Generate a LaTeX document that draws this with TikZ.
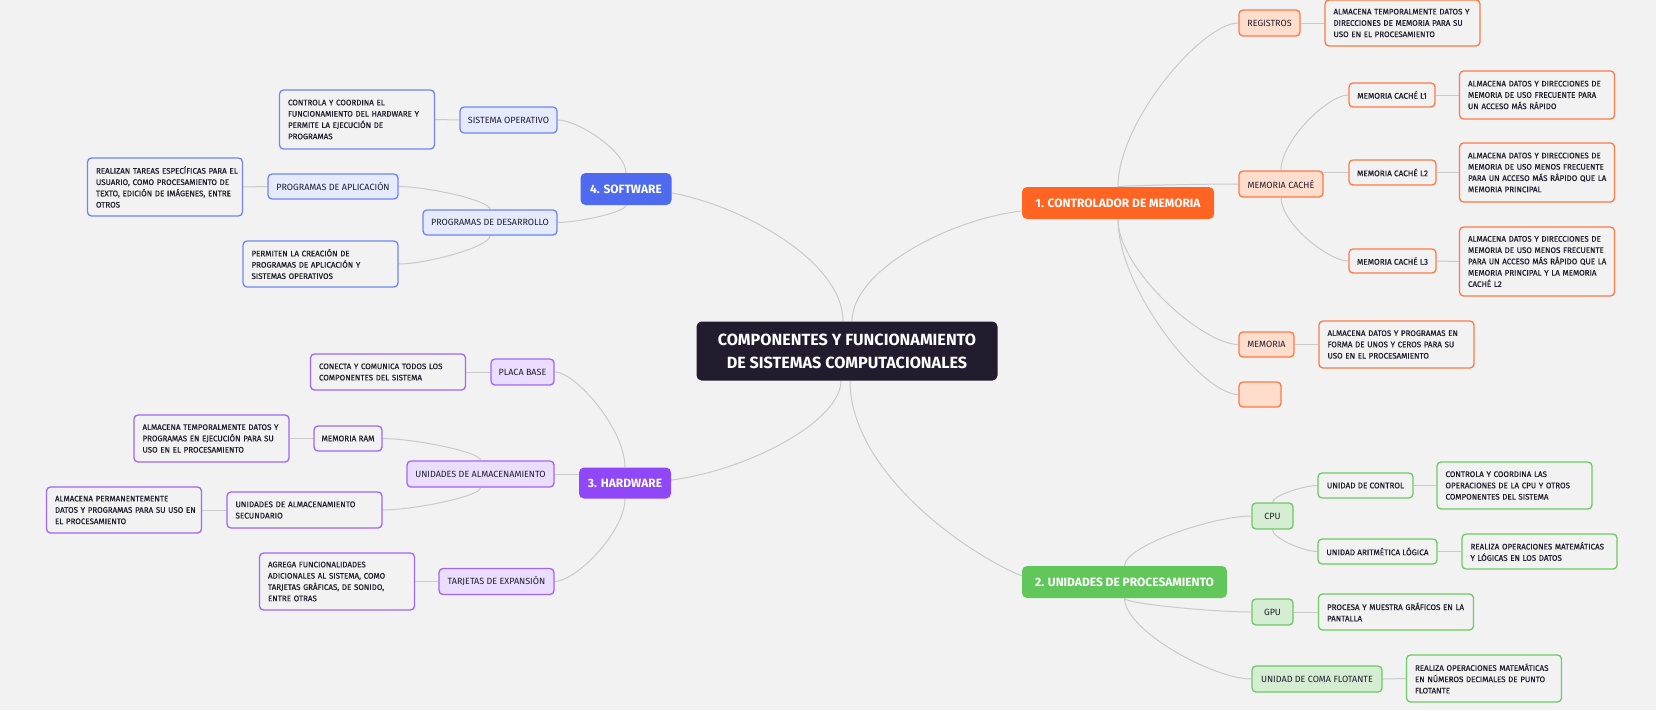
\documentclass[tikz,border=0pt]{standalone}
\usepackage{fontspec}
\setmainfont{Fira Sans}
\newfontfamily\medfam{Fira Sans}[FakeBold=0.3]
\usetikzlibrary{calc}
\definecolor{bgc}{HTML}{F2F2F2}
\definecolor{linec}{HTML}{CACACA}
\definecolor{txt}{HTML}{1F1D2B}
\definecolor{cdark}{HTML}{231C2E}
\definecolor{omain}{HTML}{FF6422}
\definecolor{ofill}{HTML}{FFDDCC}
\definecolor{obord}{HTML}{FF7A45}
\definecolor{gmain}{HTML}{62C75A}
\definecolor{gfill}{HTML}{D5EDD2}
\definecolor{gbord}{HTML}{6CCB63}
\definecolor{pmain}{HTML}{8F47F7}
\definecolor{pfill}{HTML}{EADDFD}
\definecolor{pbord}{HTML}{A066F8}
\definecolor{bmain}{HTML}{4E6BF0}
\definecolor{bfill}{HTML}{E6EAFD}
\definecolor{bbord}{HTML}{6E86F2}
\newcommand{\descfnt}{\medfam\fontsize{8}{11.3}\selectfont}
\newcommand{\nb}[1]{\mbox{#1}}
\newcommand{\cv}[2]{\draw[conn] (#1) .. controls ($(#1)!0.4!(#1|-#2)$) and ($(#2)!0.3!(#1|-#2)$) .. (#2);}
\pgfdeclarelayer{bglayer}
\pgfdeclarelayer{edgelayer}
\pgfsetlayers{bglayer,edgelayer,main}
\begin{document}
\begin{tikzpicture}[x=1pt,y=-1pt,
  base/.style={rounded corners=4pt, inner sep=0pt, align=center, text=txt},
  topn/.style={base, rounded corners=5pt, text=white, font=\bfseries\fontsize{12}{14}\selectfont},
  mid/.style={base, draw, line width=1.3pt, font=\fontsize{9}{11}\selectfont},
  omid/.style={mid, fill=ofill, draw=obord},
  gmid/.style={mid, fill=gfill, draw=gbord},
  pmid/.style={mid, fill=pfill, draw=pbord},
  bmid/.style={mid, fill=bfill, draw=bbord},
  third/.style={base, draw, line width=1.3pt, fill=bgc, font=\medfam\fontsize{8.2}{11}\selectfont},
  desc/.style={base, draw, line width=1.3pt, fill=bgc, align=left, inner xsep=8.5pt, text width=138pt, font=\descfnt},
  conn/.style={draw=linec, line width=1pt}
]
\begin{pgfonlayer}{bglayer}
\fill[bgc] (0,0) rectangle (1656,710);
\end{pgfonlayer}
\useasboundingbox (0,0) rectangle (1656,710);

% central
\node[base, fill=cdark, text=white, rounded corners=5pt, minimum width=301, minimum height=59,
  font=\bfseries\fontsize{16.2}{23}\selectfont] (center) at (847,351)
  {COMPONENTES Y FUNCIONAMIENTO\\DE SISTEMAS COMPUTACIONALES};

% top level
\node[topn, fill=omain, minimum width=192, minimum height=32] (ctrl) at (1118,203) {1. CONTROLADOR DE MEMORIA};
\node[topn, fill=gmain, minimum width=205, minimum height=32] (unid) at (1124.5,582) {2. UNIDADES DE PROCESAMIENTO};
\node[topn, fill=pmain, minimum width=92, minimum height=31] (hw) at (625,483) {3. HARDWARE};
\node[topn, fill=bmain, minimum width=91, minimum height=32] (sw) at (626,189) {4. SOFTWARE};

% memory controller branch
\node[omid, minimum width=61, minimum height=26] (reg) at (1269.5,23) {REGISTROS};
\node[desc, draw=obord, minimum height=46] (regd) at (1402.5,23) {\nb{ALMACENA TEMPORALMENTE DATOS Y}\\\nb{DIRECCIONES DE MEMORIA PARA SU}\\\nb{USO EN EL PROCESAMIENTO}};
\node[omid, minimum width=84, minimum height=26] (mc) at (1281,184) {MEMORIA CACHÉ};
\node[third, draw=obord, minimum width=86, minimum height=24] (l1) at (1392,95) {MEMORIA CACHÉ L1};
\node[desc, draw=obord, minimum height=48] (l1d) at (1537,95) {\nb{ALMACENA DATOS Y DIRECCIONES DE}\\\nb{MEMORIA DE USO FRECUENTE PARA}\\\nb{UN ACCESO MÁS RÁPIDO}};
\node[third, draw=obord, minimum width=87, minimum height=25] (l2) at (1392.5,172.5) {MEMORIA CACHÉ L2};
\node[desc, draw=obord, minimum height=59] (l2d) at (1537,172.5) {\nb{ALMACENA DATOS Y DIRECCIONES DE}\\\nb{MEMORIA DE USO MENOS FRECUENTE}\\\nb{PARA UN ACCESO MÁS RÁPIDO QUE LA}\\\nb{MEMORIA PRINCIPAL}};
\node[third, draw=obord, minimum width=87, minimum height=24] (l3) at (1392.5,261) {MEMORIA CACHÉ L3};
\node[desc, draw=obord, minimum height=69] (l3d) at (1537,261.5) {\nb{ALMACENA DATOS Y DIRECCIONES DE}\\\nb{MEMORIA DE USO MENOS FRECUENTE}\\\nb{PARA UN ACCESO MÁS RÁPIDO QUE LA}\\\nb{MEMORIA PRINCIPAL Y LA MEMORIA}\\\nb{CACHÉ L2}};
\node[omid, minimum width=55, minimum height=25] (mem) at (1266.5,344.5) {MEMORIA};
\node[desc, draw=obord, minimum height=47] (memd) at (1396.5,344.5) {\nb{ALMACENA DATOS Y PROGRAMAS EN}\\\nb{FORMA DE UNOS Y CEROS PARA SU}\\\nb{USO EN EL PROCESAMIENTO}};
\node[omid, minimum width=42, minimum height=25] (empty) at (1260,394.5) {};

% processing branch
\node[gmid, minimum width=41, minimum height=26] (cpu) at (1272.5,516) {CPU};
\node[third, draw=gbord, minimum width=95, minimum height=25] (uc) at (1365.5,485.5) {UNIDAD DE CONTROL};
\node[desc, draw=gbord, minimum height=47] (ucd) at (1514.5,485.5) {\nb{CONTROLA Y COORDINA LAS}\\\nb{OPERACIONES DE LA CPU Y OTROS}\\\nb{COMPONENTES DEL SISTEMA}};
\node[third, draw=gbord, minimum width=119, minimum height=25] (ual) at (1377.5,551.5) {UNIDAD ARITMÉTICA LÓGICA};
\node[desc, draw=gbord, minimum height=35] (uald) at (1539.5,551.5) {\nb{REALIZA OPERACIONES MATEMÁTICAS}\\\nb{Y LÓGICAS EN LOS DATOS}};
\node[gmid, minimum width=41, minimum height=26] (gpu) at (1272.5,612) {GPU};
\node[desc, draw=gbord, minimum height=36] (gpud) at (1396,612) {\nb{PROCESA Y MUESTRA GRÁFICOS EN LA}\\\nb{PANTALLA}};
\node[gmid, minimum width=130, minimum height=26] (ucf) at (1317,679) {UNIDAD DE COMA FLOTANTE};
\node[desc, draw=gbord, minimum height=47] (ucfd) at (1484,678.5) {\nb{REALIZA OPERACIONES MATEMÁTICAS}\\\nb{EN NÚMEROS DECIMALES DE PUNTO}\\\nb{FLOTANTE}};

% software branch
\node[bmid, minimum width=97, minimum height=26] (so) at (508.5,120) {SISTEMA OPERATIVO};
\node[desc, draw=bbord, minimum height=59] (sod) at (357,119.5) {\nb{CONTROLA Y COORDINA EL}\\\nb{FUNCIONAMIENTO DEL HARDWARE Y}\\\nb{PERMITE LA EJECUCIÓN DE}\\\nb{PROGRAMAS}};
\node[bmid, minimum width=130, minimum height=25] (pa) at (333,186.5) {PROGRAMAS DE APLICACIÓN};
\node[desc, draw=bbord, minimum height=58] (pad) at (165,187) {\nb{REALIZAN TAREAS ESPECÍFICAS PARA EL}\\\nb{USUARIO, COMO PROCESAMIENTO DE}\\\nb{TEXTO, EDICIÓN DE IMÁGENES, ENTRE}\\\nb{OTROS}};
\node[bmid, minimum width=134, minimum height=25] (pd) at (490,222.5) {PROGRAMAS DE DESARROLLO};
\node[desc, draw=bbord, minimum height=46] (pdd) at (320.5,264) {\nb{PERMITEN LA CREACIÓN DE}\\\nb{PROGRAMAS DE APLICACIÓN Y}\\\nb{SISTEMAS OPERATIVOS}};

% hardware branch
\node[pmid, minimum width=63, minimum height=26] (pb) at (522.5,372) {PLACA BASE};
\node[desc, draw=pbord, minimum height=36] (pbd) at (388,372) {\nb{CONECTA Y COMUNICA TODOS LOS}\\\nb{COMPONENTES DEL SISTEMA}};
\node[pmid, minimum width=147, minimum height=26] (ua) at (480.5,474) {UNIDADES DE ALMACENAMIENTO};
\node[third, draw=pbord, minimum width=68, minimum height=25] (ram) at (348,438.5) {MEMORIA RAM};
\node[desc, draw=pbord, minimum height=47] (ramd) at (211.5,438.5) {\nb{ALMACENA TEMPORALMENTE DATOS Y}\\\nb{PROGRAMAS EN EJECUCIÓN PARA SU}\\\nb{USO EN EL PROCESAMIENTO}};
\node[desc, draw=pbord, minimum height=36, font=\medfam\fontsize{8.2}{11.3}\selectfont] (sec) at (304.5,510) {\nb{UNIDADES DE ALMACENAMIENTO}\\\nb{SECUNDARIO}};
\node[desc, draw=pbord, minimum height=46] (secd) at (124,510) {\nb{ALMACENA PERMANENTEMENTE}\\\nb{DATOS Y PROGRAMAS PARA SU USO EN}\\\nb{EL PROCESAMIENTO}};
\node[pmid, minimum width=115, minimum height=26] (tj) at (496.5,581.5) {TARJETAS DE EXPANSIÓN};
\node[desc, draw=pbord, minimum height=57] (tjd) at (337,581.5) {\nb{AGREGA FUNCIONALIDADES}\\\nb{ADICIONALES AL SISTEMA, COMO}\\\nb{TARJETAS GRÁFICAS, DE SONIDO,}\\\nb{ENTRE OTRAS}};

\begin{pgfonlayer}{edgelayer}
% central to top level
\draw[conn] ($(center.north)+(-4,0)$) .. controls ($(center.north)+(-4,-61)$) and ($(sw.east)+(68,16)$) .. ($(sw.east)+(0,4)$);
\draw[conn] ($(center.north)+(5,0)$) .. controls ($(center.north)+(5,-51)$) and ($(ctrl.west)+(-72,16)$) .. ($(ctrl.west)+(0,8)$);
\draw[conn] ($(center.south)+(-6,0)$) .. controls ($(center.south)+(-6,40)$) and ($(hw.east)+(78,-13)$) .. ($(hw.east)+(0,-3)$);
\draw[conn] ($(center.south)+(3,0)$) .. controls ($(center.south)+(3,89)$) and ($(unid.west)+(-60,-31)$) .. ($(unid.west)+(0,-6)$);
% memory controller
\cv{ctrl.north}{reg.west}
\cv{ctrl.north}{mc.west}
\cv{ctrl.south}{mem.west}
\cv{ctrl.south}{empty.west}
\cv{mc.north}{l1.west}
\draw[conn] (mc.east |- l2.west) -- (l2.west);
\cv{mc.south}{l3.west}
\draw[conn] (reg.east) -- (regd.west);
\draw[conn] (l1.east) -- (l1d.west);
\draw[conn] (l2.east) -- (l2d.west);
\draw[conn] (l3.east) -- (l3d.west);
\draw[conn] (mem.east) -- (memd.west);
% processing
\cv{unid.north}{cpu.west}
\cv{unid.south}{gpu.west}
\cv{unid.south}{ucf.west}
\cv{cpu.north}{uc.west}
\cv{cpu.south}{ual.west}
\draw[conn] (uc.east) -- (ucd.west);
\draw[conn] (ual.east) -- (uald.west);
\draw[conn] (gpu.east) -- (gpud.west);
\draw[conn] (ucf.east) -- (ucfd.west);
% software
\cv{sw.north}{so.east}
\cv{sw.south}{pd.east}
\cv{pd.north}{pa.east}
\cv{pd.south}{pdd.east}
\draw[conn] (so.west) -- (sod.east);
\draw[conn] (pa.west) -- (pad.east);
% hardware
\cv{hw.north}{pb.east}
\draw[conn] (hw.west |- ua.east) -- (ua.east);
\cv{hw.south}{tj.east}
\cv{ua.north}{ram.east}
\cv{ua.south}{sec.east}
\draw[conn] (pb.west) -- (pbd.east);
\draw[conn] (ram.west) -- (ramd.east);
\draw[conn] (sec.west) -- (secd.east);
\draw[conn] (tj.west) -- (tjd.east);
\end{pgfonlayer}
\end{tikzpicture}
\end{document}
